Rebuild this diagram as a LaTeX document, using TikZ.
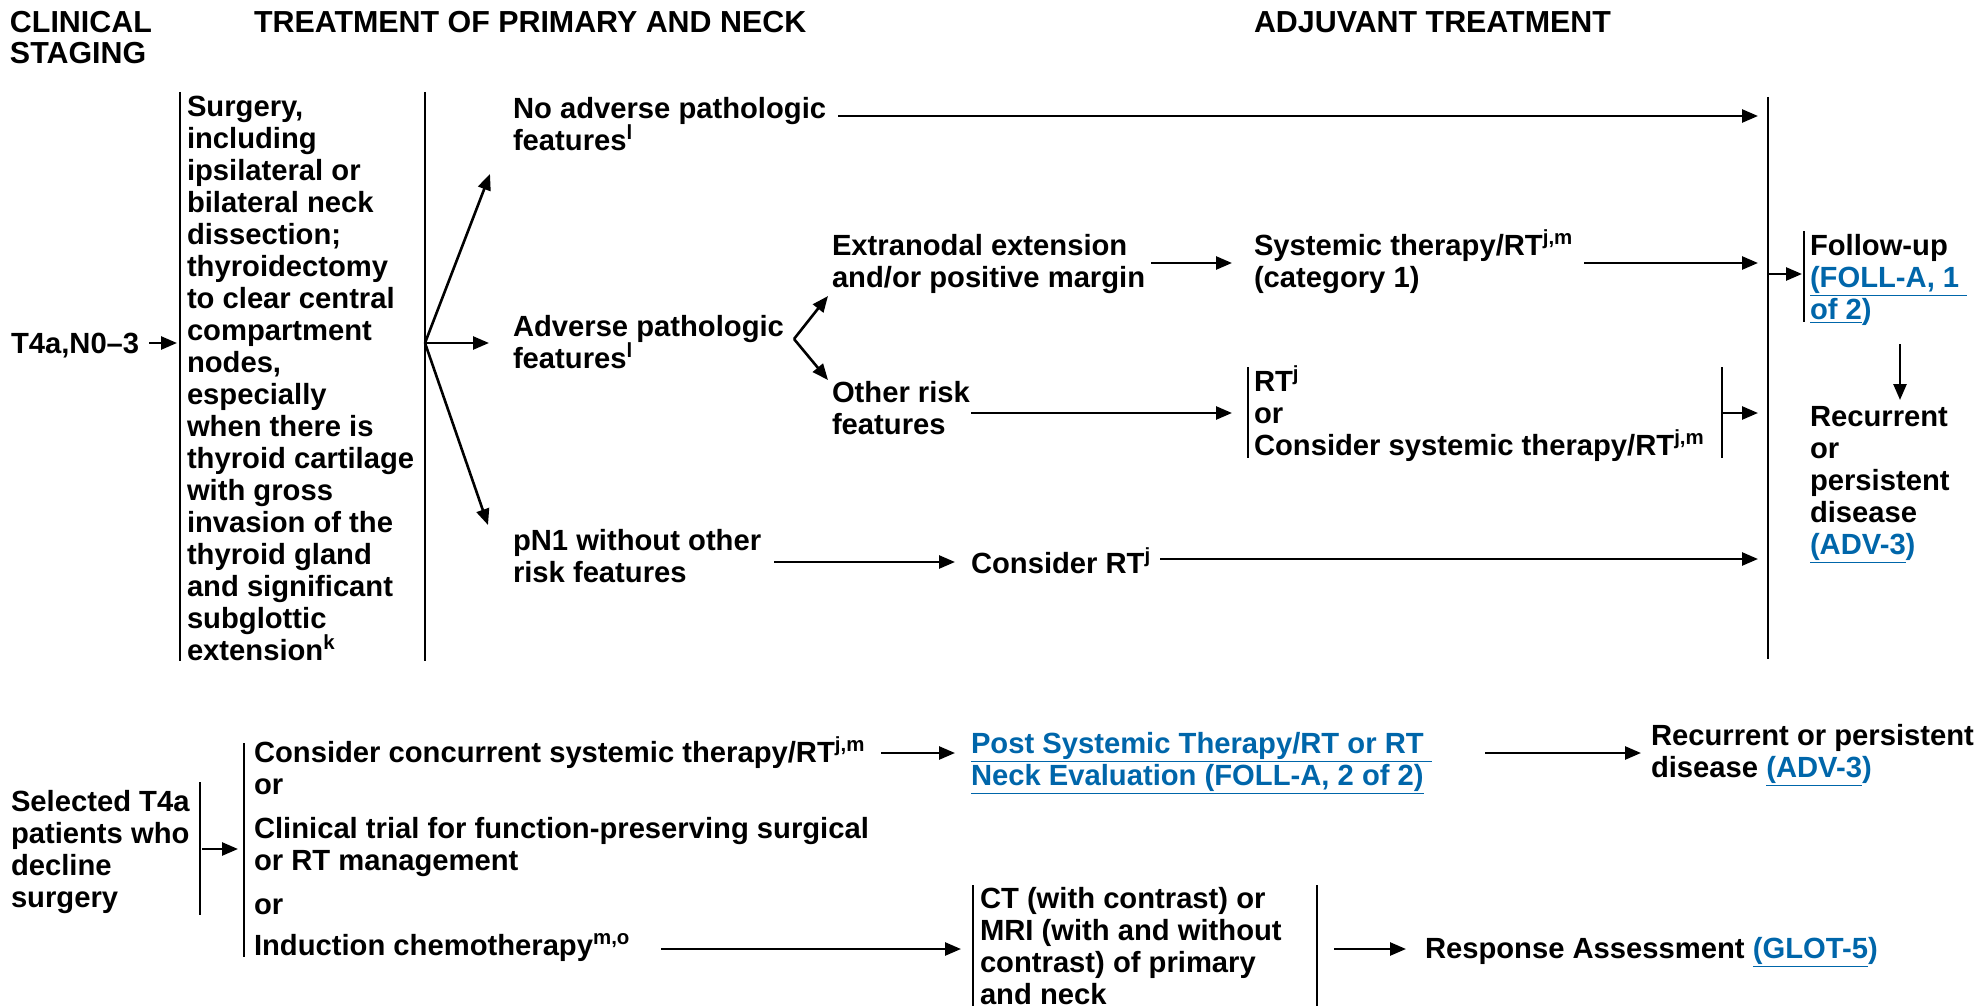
\documentclass[tikz,border=0pt]{standalone}
\usepackage{fontspec}
\setmainfont{Liberation Sans}
\usetikzlibrary{arrows.meta}
\definecolor{linkblue}{RGB}{0,102,170}
\newcommand{\lnk}[1]{\textcolor{linkblue}{\underline{#1}}}
\newcommand{\bparen}{\textcolor{linkblue}{)}}
\newcommand{\sups}[1]{\textsuperscript{#1}}
\begin{document}
\begin{tikzpicture}[x=0.5pt,y=-0.5pt,
  every node/.style={inner sep=0pt, outer sep=0pt, font=\fontsize{14.6}{16}\selectfont\bfseries, align=left, anchor=base west},
  hdr/.style={font=\fontsize{15.2}{15.5}\selectfont\bfseries},
  arr/.style={line width=1.3pt, -{Triangle[length=8pt,width=6.5pt]}},
  bar/.style={line width=1.2pt}]
\useasboundingbox (0,0) rectangle (1982,1006);

% headers (multi-line nodes are placed at the baseline of their last line)
\node[hdr] (h1) at (10,64) {CLINICAL\\STAGING};
\node[hdr] (h2) at (254,33) {TREATMENT OF PRIMARY AND NECK};
\node[hdr] (h3) at (1254,33) {ADJUVANT TREATMENT};

% coordinates
\path (149,343) coordinate (t4aout) (177,343) coordinate (surgin)
      (180,92) coordinate (sbl1) (180,661) coordinate (sbl2)
      (425,92) coordinate (sbr1) (425,661) coordinate (sbr2)
      (425,343) coordinate (split)
      (490,174) coordinate (tonoadv) (489,343) coordinate (toadv) (488,525) coordinate (topn)
      (838,116) coordinate (noadvout) (1758,116) coordinate (bigA)
      (1768,97) coordinate (big1) (1768,659) coordinate (big2)
      (1151,263) coordinate (extraout) (1232,263) coordinate (systin)
      (1584,263) coordinate (systout) (1758,263) coordinate (bigB)
      (1768,274) coordinate (bigout) (1802,274) coordinate (fuin)
      (1804,231) coordinate (fub1) (1804,322) coordinate (fub2)
      (1900,344) coordinate (fuout) (1900,400) coordinate (recin)
      (794,339) coordinate (fork) (828,296) coordinate (toextra) (828,380) coordinate (toother)
      (971,413) coordinate (otherout) (1232,413) coordinate (rtin)
      (1248,367) coordinate (rtl1) (1248,458) coordinate (rtl2)
      (1722,367) coordinate (rtr1) (1722,458) coordinate (rtr2)
      (1722,413) coordinate (rtout) (1758,413) coordinate (bigC)
      (774,562) coordinate (pnout) (955,562) coordinate (crtin)
      (1160,559) coordinate (crtout) (1758,559) coordinate (bigD)
      (200,782) coordinate (selb1) (200,915) coordinate (selb2)
      (202,849) coordinate (selout) (238,849) coordinate (optin)
      (244,743) coordinate (optb1) (244,957) coordinate (optb2)
      (881,753) coordinate (ccout) (955,753) coordinate (postin)
      (1485,753) coordinate (postout) (1641,753) coordinate (rec2in)
      (661,949) coordinate (indout) (961,949) coordinate (ctin)
      (973,885) coordinate (ctl1) (973,1006) coordinate (ctl2)
      (1317,885) coordinate (ctr1) (1317,1006) coordinate (ctr2)
      (1334,949) coordinate (ctout) (1406,949) coordinate (respin);

% top section
\node (t4a) at (11,353) {T4a,N0–3};
\draw[arr] (t4aout) -- (surgin);
\draw[bar] (sbl1) -- (sbl2);
\node (surg) at (187,660) {Surgery,\\including\\ipsilateral or\\bilateral neck\\dissection;\\thyroidectomy\\to clear central\\compartment\\nodes,\\especially\\when there is\\thyroid cartilage\\with gross\\invasion of the\\thyroid gland\\and significant\\subglottic\\extension\sups{k}};
\draw[bar] (sbr1) -- (sbr2);
\draw[arr] (split) -- (tonoadv);
\draw[arr] (split) -- (toadv);
\draw[arr] (split) -- (topn);

\node (noadv) at (513,150) {No adverse pathologic\\features\sups{l}};
\draw[arr] (noadvout) -- (bigA);
\draw[bar] (big1) -- (big2);

\node (adv) at (513,368) {Adverse pathologic\\features\sups{l}};
\draw[arr] (fork) -- (toextra);
\draw[arr] (fork) -- (toother);

\node (extra) at (832,287) {Extranodal extension\\and/or positive margin};
\draw[arr] (extraout) -- (systin);
\node (syst) at (1254,287) {Systemic therapy/RT\sups{j,m}\\(category 1)};
\draw[arr] (systout) -- (bigB);

\node (other) at (832,434) {Other risk\\features};
\draw[arr] (otherout) -- (rtin);
\draw[bar] (rtl1) -- (rtl2);
\node (rt) at (1254,455) {RT\sups{j}\\or\\Consider systemic therapy/RT\sups{j,m}};
\draw[bar] (rtr1) -- (rtr2);
\draw[arr] (rtout) -- (bigC);

\node (pn) at (513,582) {pN1 without other\\risk features};
\draw[arr] (pnout) -- (crtin);
\node (crt) at (971,573) {Consider RT\sups{j}};
\draw[arr] (crtout) -- (bigD);

\draw[arr] (bigout) -- (fuin);
\draw[bar] (fub1) -- (fub2);
\node (fu) at (1810,319) {Follow-up\\\lnk{(FOLL-A, 1 }\\\lnk{of 2}\bparen};
\draw[arr] (fuout) -- (recin);
\node (rec) at (1810,554) {Recurrent\\or\\persistent\\disease\\\lnk{(ADV-3}\bparen};

% bottom section
\node (sel) at (11,907) {Selected T4a\\patients who\\decline\\surgery};
\draw[bar] (selb1) -- (selb2);
\draw[arr] (selout) -- (optin);
\draw[bar] (optb1) -- (optb2);
\node (opts) at (254,955) {Consider concurrent systemic therapy/RT\sups{j,m}\\or\\[6pt]Clinical trial for function-preserving surgical\\or RT management\\[6pt]or\\[4.5pt]Induction chemotherapy\sups{m,o}};
\draw[arr] (ccout) -- (postin);
\node (post) at (971,785) {\lnk{Post Systemic Therapy/RT or RT }\\\lnk{Neck Evaluation (FOLL-A, 2 of 2)}};
\draw[arr] (postout) -- (rec2in);
\node (rec2) at (1651,777) {Recurrent or persistent\\disease \lnk{(ADV-3}\bparen};

\draw[arr] (indout) -- (ctin);
\draw[bar] (ctl1) -- (ctl2);
\node (ct) at (980,1004) {CT (with contrast) or\\MRI (with and without\\contrast) of primary\\and neck};
\draw[bar] (ctr1) -- (ctr2);
\draw[arr] (ctout) -- (respin);
\node (resp) at (1425,958) {Response Assessment \lnk{(GLOT-5}\bparen};
\end{tikzpicture}
\end{document}
